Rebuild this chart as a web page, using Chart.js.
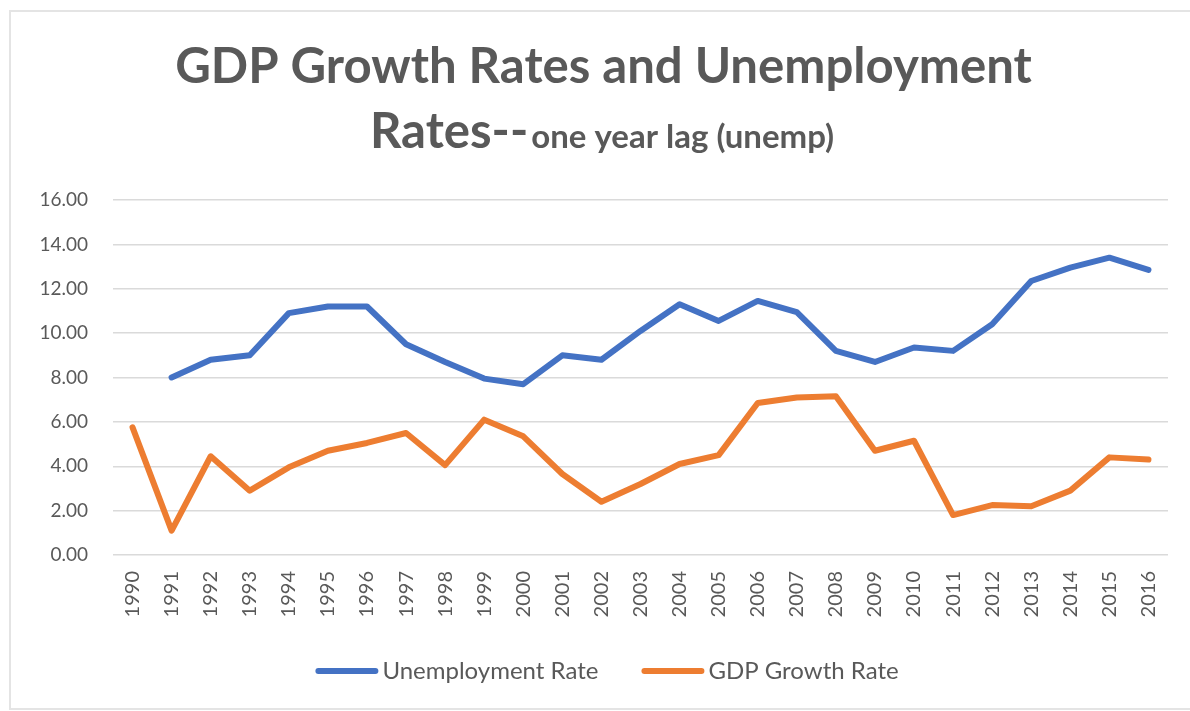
<!DOCTYPE html>
<html>
<head>
<meta charset="utf-8">
<script src="https://cdn.jsdelivr.net/npm/chart.js@4.4.1/dist/chart.umd.min.js"></script>
<style>
  html, body { margin: 0; padding: 0; background: #ffffff; }
  #wrap { position: relative; width: 1190px; height: 711px; overflow: hidden; background: #fff; }
  #strip { position: absolute; top: 0; left: 820px; width: 370px; height: 4px;
           background: linear-gradient(to right, rgba(225,230,240,0), #c3c9d8 45%, #a3a9b8 100%); }
  canvas { position: absolute; left: 0; top: 0; }
</style>
</head>
<body>
<div id="wrap">
  <div id="strip"></div>
  <canvas id="c" width="1190" height="711"></canvas>
</div>
<script>
// ---- data ----
const years = ["1990","1991","1992","1993","1994","1995","1996","1997","1998","1999",
               "2000","2001","2002","2003","2004","2005","2006","2007","2008","2009",
               "2010","2011","2012","2013","2014","2015","2016"];
const unemploymentRate = [null, 8.0, 8.8, 9.0, 10.9, 11.2, 11.2, 9.5, 8.7, 7.95,
                          7.7, 9.0, 8.8, 10.1, 11.3, 10.55, 11.45, 10.95, 9.2, 8.7,
                          9.35, 9.2, 10.4, 12.35, 12.95, 13.4, 12.85];
const gdpGrowthRate = [5.75, 1.1, 4.45, 2.9, 3.95, 4.7, 5.05, 5.5, 4.05, 6.1,
                       5.35, 3.65, 2.4, 3.2, 4.1, 4.5, 6.85, 7.1, 7.15, 4.7,
                       5.15, 1.8, 2.25, 2.2, 2.9, 4.4, 4.3];
const yTicks = [0, 2, 4, 6, 8, 10, 12, 14, 16];
const titleLine1 = "GDP Growth Rates and Unemployment";
const titleLine2Big = "Rates--";
const titleLine2Small = "one year lag (unemp)";
const seriesNames = ["Unemployment Rate", "GDP Growth Rate"];
const seriesColors = ["#4472C4", "#ED7D31"];

const textColor = "#595959";
const FONT = "Lato, 'Open Sans', sans-serif";

function fitFont(ctx, text, weight, targetWidth) {
  ctx.font = weight + " 100px " + FONT;
  const w = ctx.measureText(text).width;
  return 100 * targetWidth / w;
}

const framePlugin = {
  id: 'frame',
  beforeDraw(chart) {
    const ctx = chart.ctx;
    ctx.save();
    ctx.fillStyle = '#ffffff';
    ctx.fillRect(0, 0, chart.width, chart.height);
    ctx.strokeStyle = '#e4e4e4';
    ctx.lineWidth = 2;
    ctx.strokeRect(10, 11, chart.width + 20, 698);
    ctx.restore();
  }
};

const titlePlugin = {
  id: 'customTitle',
  afterDraw(chart) {
    const ctx = chart.ctx;
    ctx.save();
    ctx.fillStyle = textColor;
    ctx.textBaseline = 'alphabetic';
    ctx.textAlign = 'left';
    const s1 = fitFont(ctx, titleLine1, 'bold', 857);
    ctx.font = 'bold ' + s1 + 'px ' + FONT;
    const w1 = ctx.measureText(titleLine1).width;
    ctx.fillText(titleLine1, 603.5 - w1 / 2, 83);
    ctx.font = 'bold ' + s1 + 'px ' + FONT;
    const wb = ctx.measureText(titleLine2Big).width;
    const s2 = fitFont(ctx, titleLine2Small, 'bold', 303);
    ctx.font = 'bold ' + s2 + 'px ' + FONT;
    const ws = ctx.measureText(titleLine2Small).width;
    const total = wb + 3 + ws;
    const x0 = 602 - total / 2;
    ctx.font = 'bold ' + s1 + 'px ' + FONT;
    ctx.fillText(titleLine2Big, x0, 148);
    ctx.font = 'bold ' + s2 + 'px ' + FONT;
    ctx.fillText(titleLine2Small, x0 + wb + 3, 148);
    ctx.restore();
  }
};

const legendPlugin = {
  id: 'customLegend',
  afterDraw(chart) {
    const ctx = chart.ctx;
    ctx.save();
    const fs = 24;
    ctx.font = fs + 'px ' + FONT;
    const lineLen = 63, gap = 4, itemGap = 43;
    const items = chart.data.datasets.map(d => ({
      label: d.label, color: d.borderColor, tw: ctx.measureText(d.label).width
    }));
    let total = 0;
    items.forEach((it, i) => { total += lineLen + gap + it.tw + (i ? itemGap : 0); });
    let x = 607 - total / 2;
    const y = 671;
    items.forEach((it, i) => {
      if (i) x += itemGap;
      ctx.strokeStyle = it.color;
      ctx.lineWidth = 6;
      ctx.lineCap = 'round';
      ctx.beginPath();
      ctx.moveTo(x + 3, y);
      ctx.lineTo(x + lineLen - 3, y);
      ctx.stroke();
      x += lineLen + gap;
      ctx.fillStyle = textColor;
      ctx.textBaseline = 'middle';
      ctx.textAlign = 'left';
      ctx.fillText(it.label, x, y);
      x += it.tw;
    });
    ctx.restore();
  }
};

new Chart(document.getElementById('c'), {
  type: 'line',
  data: {
    labels: years,
    datasets: [
      { label: seriesNames[0], data: unemploymentRate, borderColor: seriesColors[0],
        backgroundColor: seriesColors[0], borderWidth: 6, pointRadius: 0, pointHoverRadius: 0,
        tension: 0, borderJoinStyle: 'round', borderCapStyle: 'round', spanGaps: false },
      { label: seriesNames[1], data: gdpGrowthRate, borderColor: seriesColors[1],
        backgroundColor: seriesColors[1], borderWidth: 6, pointRadius: 0, pointHoverRadius: 0,
        tension: 0, borderJoinStyle: 'round', borderCapStyle: 'round' }
    ]
  },
  options: {
    responsive: false,
    animation: false,
    devicePixelRatio: 1,
    layout: { padding: { left: 40, right: 22, top: 200, bottom: 76 } },
    plugins: {
      legend: { display: false },
      title: { display: false },
      tooltip: { enabled: false }
    },
    scales: {
      x: {
        type: 'category',
        offset: true,
        grid: { display: false, drawTicks: false },
        border: { display: false },
        ticks: {
          color: textColor, font: { family: FONT, size: 20 },
          minRotation: 90, maxRotation: 90, padding: 16, autoSkip: false
        },
        afterFit(scale) { scale.height = 80; }
      },
      y: {
        min: 0, max: 16,
        afterBuildTicks(scale) { scale.ticks = yTicks.map(v => ({ value: v })); },
        grid: { color: '#dadada', lineWidth: 1.5, drawTicks: false },
        border: { display: false },
        ticks: {
          color: textColor, font: { family: FONT, size: 19 }, padding: 25,
          callback: v => Number(v).toFixed(2)
        },
        afterFit(scale) { scale.width = 73; }
      }
    }
  },
  plugins: [framePlugin, titlePlugin, legendPlugin]
});
</script>
</body>
</html>
